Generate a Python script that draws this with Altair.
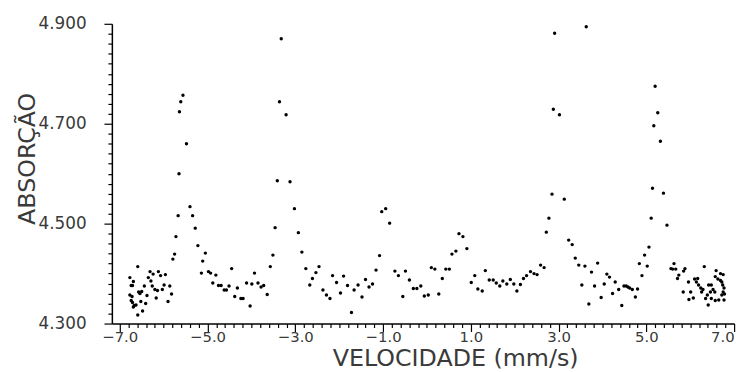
import altair as alt
import pandas as pd

# Mössbauer spectrum: velocity (mm/s) vs absorption
velocidade = [
    -6.77, -6.69, -6.74, -6.71, -6.77, -6.72, -6.74, -6.71, -6.67, -6.63, -6.69,
    -6.59, -6.59, -6.57, -6.54, -6.50, -6.44, -6.52, -6.48, -6.41, -6.38, -6.35,
    -6.31, -6.29, -6.26, -6.24, -6.20, -6.17, -6.14, -6.12, -6.07, -6.03, -5.99,
    -5.96, -5.90, -5.86, -5.82, -5.79, -5.75, -5.72, -5.67, -5.65, -5.64, -5.61,
    -5.56, -5.48, -5.40, -5.34, -5.28, -5.22, -5.14, -5.11, -5.05, -4.98, -4.93,
    -4.88, -4.81, -4.75, -4.69, -4.62, -4.57, -4.51, -4.45, -4.38, -4.32, -4.24,
    -4.19, -4.11, -4.03, -3.99, -3.93, -3.85, -3.78, -3.72, -3.64, -3.57, -3.51,
    -3.46, -3.41, -3.36, -3.32, -3.21, -3.12, -3.02, -2.93,
    -2.85, -2.76, -2.67, -2.61, -2.53, -2.46, -2.37, -2.29, -2.21, -2.15, -2.06,
    -1.97, -1.90, -1.81, -1.72, -1.66, -1.57, -1.48, -1.40, -1.32, -1.24, -1.16,
    -1.08, -1.03, -0.94, -0.85, -0.73, -0.65, -0.55, -0.49, -0.40, -0.31, -0.23,
    -0.14, -0.06, 0.03, 0.10, 0.18, 0.27, 0.35, 0.43, 0.51, 0.57, 0.66, 0.73,
    0.82, 0.91, 1.01, 1.09, 1.16,
    1.26, 1.33, 1.42, 1.51, 1.58, 1.66, 1.73, 1.82, 1.90, 1.98, 2.05, 2.13, 2.20,
    2.27, 2.36, 2.44, 2.51, 2.59, 2.67, 2.72, 2.78, 2.85, 2.88, 2.91, 3.02, 3.13,
    3.23, 3.31, 3.38, 3.46, 3.53, 3.60, 3.63, 3.69, 3.75, 3.82, 3.89, 3.97, 4.04,
    4.10, 4.16, 4.23, 4.29, 4.37, 4.44, 4.49, 4.54, 4.58, 4.62, 4.68, 4.75, 4.80,
    4.84, 4.90, 4.96, 5.02, 5.06, 5.11, 5.14, 5.17, 5.20, 5.26, 5.32, 5.39, 5.47,
    5.56, 5.60, 5.63, 5.67, 5.71, 5.74, 5.84, 5.85, 5.88, 5.96, 5.97, 6.01, 6.07,
    6.10, 6.14, 6.17, 6.19, 6.24, 6.26, 6.29, 6.32, 6.35, 6.39, 6.41, 6.42, 6.46,
    6.48, 6.48, 6.52, 6.56, 6.57, 6.57, 6.59, 6.63, 6.65, 6.69, 6.69, 6.72, 6.72,
    6.74, 6.75, 6.75, 6.77, 6.77, 6.78,
]
absorcao = [
    4.392, 4.384, 4.376, 4.376, 4.357, 4.354, 4.346, 4.342, 4.336, 4.337, 4.333,
    4.414, 4.317, 4.363, 4.360, 4.364, 4.375, 4.344, 4.325, 4.340, 4.356, 4.392,
    4.404, 4.385, 4.375, 4.399, 4.368, 4.351, 4.366, 4.404, 4.396, 4.368, 4.377,
    4.398, 4.344, 4.375, 4.359, 4.429, 4.439, 4.474, 4.516, 4.600, 4.724, 4.744,
    4.757, 4.660, 4.534, 4.516, 4.491, 4.456, 4.401, 4.425, 4.441, 4.404, 4.401,
    4.381, 4.397, 4.376, 4.376, 4.367, 4.367, 4.375, 4.410, 4.354, 4.371, 4.350,
    4.350, 4.381, 4.335, 4.379, 4.401, 4.381, 4.373, 4.376, 4.358, 4.414, 4.437,
    4.492, 4.586, 4.744, 4.870, 4.718, 4.584, 4.530, 4.482,
    4.443, 4.410, 4.377, 4.390, 4.402, 4.414, 4.367, 4.357, 4.350, 4.396, 4.382,
    4.361, 4.395, 4.376, 4.322, 4.367, 4.377, 4.353, 4.388, 4.373, 4.379, 4.407,
    4.436, 4.524, 4.530, 4.501, 4.405, 4.396, 4.354, 4.405, 4.387, 4.370, 4.370,
    4.375, 4.355, 4.357, 4.412, 4.409, 4.359, 4.390, 4.409, 4.409, 4.439, 4.445,
    4.480, 4.474, 4.450, 4.382, 4.396, 4.369,
    4.365, 4.406, 4.387, 4.387, 4.381, 4.375, 4.385, 4.379, 4.388, 4.379, 4.365,
    4.378, 4.390, 4.396, 4.404, 4.400, 4.398, 4.417, 4.412, 4.483, 4.511, 4.559,
    4.729, 4.881, 4.718, 4.549, 4.467, 4.458, 4.431, 4.417, 4.377, 4.415, 4.894,
    4.339, 4.403, 4.375, 4.421, 4.352, 4.379, 4.399, 4.393, 4.360, 4.383, 4.368,
    4.336, 4.375, 4.375, 4.373, 4.371, 4.368, 4.353, 4.369, 4.420, 4.396, 4.437,
    4.415, 4.453, 4.511, 4.571, 4.696, 4.775, 4.722, 4.665, 4.561, 4.497,
    4.410, 4.409, 4.420, 4.409, 4.390, 4.397, 4.363, 4.405, 4.410, 4.383, 4.348,
    4.363, 4.351, 4.389, 4.383, 4.390, 4.377, 4.371, 4.363, 4.368, 4.414, 4.350,
    4.357, 4.337, 4.377, 4.363, 4.350, 4.377, 4.368, 4.363, 4.394, 4.346, 4.406,
    4.389, 4.347, 4.400, 4.386, 4.383, 4.357, 4.377, 4.398, 4.363, 4.371, 4.347,
    4.359,
]

x_ticks = [round(-7 + 0.2 * i, 1) for i in range(71)]
y_ticks = [round(4.3 + 0.02 * i, 2) for i in range(31)]

x_major = "abs(datum.value - 2*round((datum.value - 1)/2) - 1) < 0.01"
y_major = "abs(datum.value*5 - 0.5 - round(datum.value*5 - 0.5)) < 0.01"

df = pd.DataFrame({"v": velocidade, "a": absorcao})

FONT = "DejaVu Sans"
TXT = "#3a3a3a"

x_axis = alt.Axis(
    values=x_ticks,
    labelExpr=f"{x_major} ? format(datum.value, '.1f') : ''",
    tickSize={"condition": {"test": x_major, "value": 8}, "value": 4},
    title="VELOCIDADE (mm/s)",
    grid=False,
    domainColor="black",
    domainWidth=1.5,
    tickColor="black",
    tickWidth=1.2,
    labelFont=FONT,
    labelFontSize=15,
    labelColor=TXT,
    labelPadding=-2,
    labelOverlap=False,
    titleFont=FONT,
    titleFontSize=24,
    titleFontWeight="normal",
    titleColor=TXT,
    titleBaseline="middle",
    titleX=347,
    titleY=35,
)

y_axis = alt.Axis(
    values=y_ticks,
    labelExpr=f"{y_major} ? format(datum.value, '.3f') : ''",
    tickSize={"condition": {"test": y_major, "value": 8}, "value": 4},
    title="ABSORÇÃO",
    grid=False,
    domainColor="black",
    domainWidth=1.5,
    tickColor="black",
    tickWidth=1.2,
    labelFont=FONT,
    labelFontSize=17,
    labelColor=TXT,
    labelPadding=18,
    labelOverlap=False,
    titleFont=FONT,
    titleFontSize=24,
    titleFontWeight="normal",
    titleColor=TXT,
    titleBaseline="middle",
    titleX=-85,
    titleY=136,
)

chart = (
    alt.Chart(df)
    .mark_circle(size=12, color="black", opacity=1)
    .encode(
        x=alt.X("v:Q", scale=alt.Scale(domain=[-7.18, 7.0], nice=False, zero=False), axis=x_axis),
        y=alt.Y("a:Q", scale=alt.Scale(domain=[4.3, 4.9], nice=False, zero=False), axis=y_axis),
    )
    .properties(
        width=629,
        height=303,
        autosize=alt.AutoSizeParams(type="none"),
        padding={"left": 105, "top": 14, "right": 11, "bottom": 47},
    )
    .configure_view(stroke=None)
)

chart.save("out.html", embed_options={"renderer": "svg", "actions": False})
